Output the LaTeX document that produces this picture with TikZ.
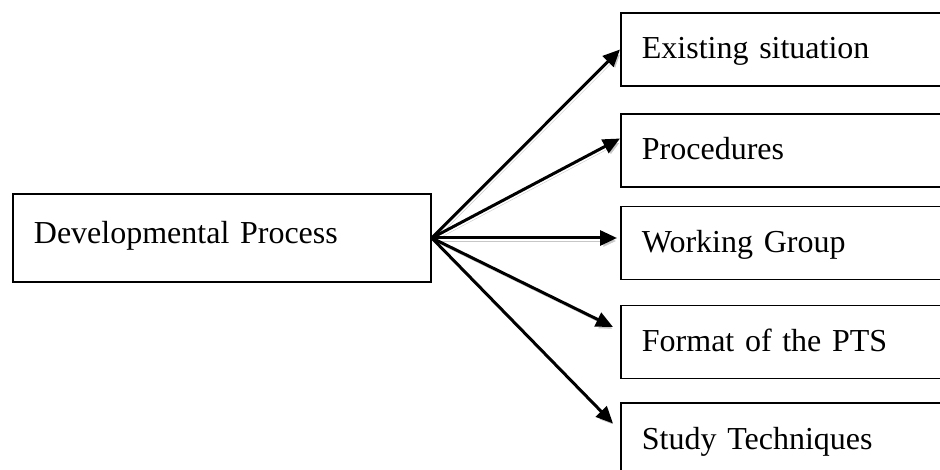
\documentclass[tikz,border=0pt]{standalone}
\usepackage{fontspec}
\setmainfont{Liberation Serif}
\usetikzlibrary{arrows.meta}

\begin{document}
\begin{tikzpicture}[
  x=1pt, y=-1pt,
  box/.style={rectangle, draw=black, line width=1.8pt, anchor=west,
              inner xsep=21pt, inner ysep=0pt, align=left,
              font=\fontsize{32}{38}\selectfont, text height=21pt},
  source/.style={box, text width=376pt, minimum height=88pt, text depth=9pt},
  target/.style={box, text width=300pt, minimum height=73pt, text depth=2pt},
  link/.style={-{Triangle[length=17pt,width=15pt]}, line width=3pt,
               preaction={draw=black!22, transform canvas={shift={(2pt,-3pt)}}}},
]
\useasboundingbox (0,0) rectangle (940,470);
\clip (0,0) rectangle (940,470);

% Process box
\node[source] (dev) at (12,238) {Developmental Process};

% Parts of the process
\node[target] (p1) at (620,49.5) {Existing situation};
\node[target] (p2) at (620,150.5) {Procedures};
\node[target] (p3) at (620,243) {Working Group};
\node[target] (p4) at (620,342) {Format of the PTS};
\node[target] (p5) at (620,439.5) {Study Techniques};

% Arrows
\draw[link] (dev.east) -- (p1.west);
\draw[link] (dev.east) -- ([yshift=12pt]p2.west);
\draw[link] (dev.east) -- ([xshift=-3pt,yshift=5pt]p3.west);
\draw[link] (dev.east) -- ([xshift=-7pt,yshift=15pt]p4.west);
\draw[link] (dev.east) -- ([xshift=-7pt,yshift=16pt]p5.west);

\end{tikzpicture}
\end{document}
